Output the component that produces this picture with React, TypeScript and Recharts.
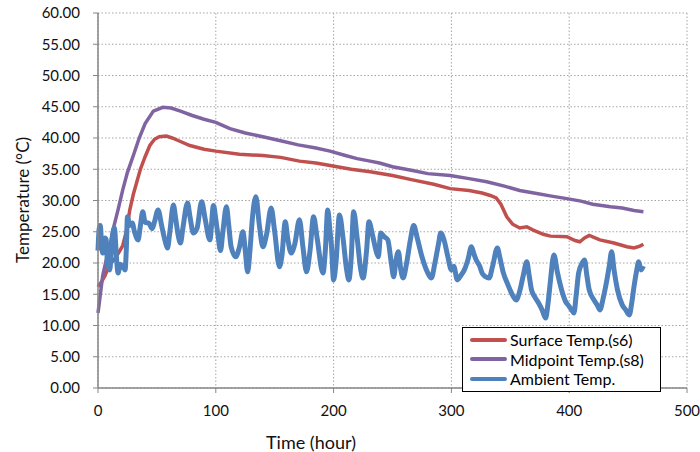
import { LineChart, Line, XAxis, YAxis, CartesianGrid, Legend } from "recharts";

// [hour, °C]
const surfaceTemp: [number, number][] = [
  [0, 16.2], [3, 17], [6, 18], [10, 19.8], [14, 20.6], [18, 21.8], [21, 22.8], [24, 25],
  [27, 28.5], [30, 31], [33, 33], [36, 35], [40, 37], [44, 38.8], [48, 39.8], [52, 40.2],
  [58, 40.3], [63, 40], [68, 39.6], [78, 38.8], [90, 38.2], [100, 37.9], [120, 37.4],
  [140, 37.2], [155, 36.9], [171, 36.3], [185, 36], [197, 35.6], [215, 35], [231, 34.6],
  [250, 34], [267, 33.3], [285, 32.6], [299, 31.9], [315, 31.6], [326, 31.2], [333, 30.8],
  [338, 30.4], [342, 29.4], [347, 27.4], [352, 26.2], [358, 25.6], [364, 25.8], [369, 25.3],
  [378, 24.6], [384, 24.3], [398, 24.2], [405, 23.6], [409, 23.4], [413, 24], [417, 24.4],
  [426, 23.7], [438, 23.2], [449, 22.6], [455, 22.4], [460, 22.7], [463, 23],
];

const midpointTemp: [number, number][] = [
  [0, 12], [2, 15], [4, 18], [7, 20.5], [10, 22.6], [13, 25.5], [17, 28.5], [21, 31.7],
  [25, 34.5], [30, 37.2], [35, 40], [40, 42.3], [47, 44.3], [55, 44.9], [62, 44.8],
  [70, 44.3], [80, 43.6], [90, 43], [100, 42.5], [112, 41.5], [125, 40.8], [140, 40.2],
  [154, 39.6], [170, 38.9], [185, 38.4], [197, 37.9], [210, 37.2], [220, 36.7], [231, 36.3],
  [239, 36], [250, 35.4], [267, 34.8], [280, 34.3], [299, 34], [315, 33.5], [330, 33],
  [345, 32.3], [358, 31.6], [370, 31.2], [385, 30.7], [398, 30.3], [410, 29.9], [420, 29.4],
  [435, 29], [445, 28.8], [455, 28.4], [463, 28.2],
];

const ambientTemp: [number, number][] = [
  [0, 22], [1, 25.5], [2, 26], [3, 23], [4, 21.6], [5, 22.5], [6, 24], [7, 23.7], [8, 20],
  [10, 18.9], [11, 21], [12, 24], [14, 25.6], [15, 23], [16, 20], [17, 18.4], [19, 19.8],
  [21, 19.4], [23, 18.9], [24, 22], [25, 27.4], [27, 26], [29, 26.4], [31, 25], [34, 23.7],
  [36, 26], [38, 28.2], [40, 26.5], [43, 26.4], [46, 25.5], [48, 26.6], [51, 28.5], [54, 26],
  [57, 23.5], [59, 22.4], [61, 25], [64, 29.3], [66, 27], [68, 24.5], [70, 23.2], [72, 25.5],
  [76, 29.6], [78, 27.5], [81, 24.8], [84, 25.5], [88, 29.8], [91, 27], [95, 23.7], [98, 29.2],
  [100, 27], [102, 24.2], [104, 22], [106, 25], [109, 29], [111, 26], [113, 22.6], [117, 21],
  [120, 22.5], [123, 25], [125, 22], [127, 18.6], [129, 22], [131, 27], [134, 30.6], [137, 26],
  [140, 22.6], [143, 24.5], [147, 28.8], [150, 25], [154, 19.4], [156, 21], [159, 26.6],
  [161, 24], [164, 21.6], [167, 23], [171, 26.9], [174, 22.5], [177, 18.6], [180, 22],
  [183, 27.4], [186, 24], [191, 18.4], [193, 22], [195, 28.5], [197, 25], [198, 23.2],
  [200, 17.3], [202, 20], [205, 27.7], [208, 24], [211, 19], [213, 17.3], [215, 21],
  [217, 28.2], [220, 24], [223, 19], [225, 17.6], [228, 22], [230, 26.6], [233, 24.5],
  [236, 22], [238, 21], [240, 24.8], [243, 24.2], [246, 23.7], [249, 20], [251, 17.8],
  [253, 20.5], [255, 21.8], [257, 19], [259, 17.6], [262, 20], [265, 23.5], [268, 26],
  [271, 24], [275, 21], [280, 18.4], [283, 17.6], [286, 20], [289, 23], [291, 24.8],
  [294, 23.5], [297, 21], [300, 18.9], [302, 19.5], [305, 17.3], [308, 18], [311, 18.9],
  [314, 20.5], [317, 22.6], [319, 21.5], [321, 20.5], [324, 19.5], [326, 18.4], [329, 17.8],
  [332, 17.6], [335, 19.5], [339, 22.4], [341, 21], [344, 18.5], [348, 16.5], [351, 15.2],
  [355, 14.1], [358, 15.5], [361, 18], [364, 20.2], [366, 18], [368, 15.7], [371, 14.5],
  [374, 13.6], [377, 12.5], [380, 11.2], [382, 13.5], [384, 17], [387, 21.3], [390, 18.5],
  [394, 15.4], [397, 13.8], [399, 13.3], [402, 12.5], [404, 12], [406, 15], [408, 18.4],
  [411, 20], [413, 20.5], [415, 18], [417, 15.7], [421, 14.1], [424, 13.2], [426, 12.5],
  [429, 14.5], [432, 17.3], [434, 19.5], [436, 21.8], [438, 19], [441, 15.7], [445, 13.3],
  [448, 12.5], [451, 11.7], [453, 13.5], [455, 16.2], [457, 18.5], [459, 20.2], [461, 18.9],
  [463, 19.5],
];

const seriesNames = ["Surface Temp.(s6)", "Midpoint Temp.(s8)", "Ambient Temp."];
const xTicks = [0, 100, 200, 300, 400, 500];
const yTicks = [0, 5, 10, 15, 20, 25, 30, 35, 40, 45, 50, 55, 60];

const toRows = (pts: [number, number][]) => pts.map(([t, v]) => ({ t, v }));

const FONT = "Lato, 'Liberation Sans', sans-serif";

function LegendBox({ payload }: any) {
  const items = [...(payload || [])].sort(
    (a: any, b: any) => seriesNames.indexOf(a.value) - seriesNames.indexOf(b.value)
  );
  return (
    <div
      style={{
        border: "1px solid #000",
        background: "#fff",
        padding: "2px 0 2px 7px",
        fontFamily: FONT,
        fontSize: 16,
        lineHeight: "19.5px",
        color: "#000",
        width: 199,
        boxSizing: "border-box",
      }}
    >
      {items.map((p: any) => (
        <div key={p.value} style={{ display: "flex", alignItems: "center" }}>
          <span
            style={{
              display: "inline-block",
              width: 37,
              height: 4,
              borderRadius: 2,
              background: p.color,
              marginRight: 3,
            }}
          />
          {p.value}
        </div>
      ))}
    </div>
  );
}

export default function App() {
  return (
    <div style={{ position: "absolute", left: 0, top: 0, background: "#fff" }}>
      <LineChart width={700} height={452} margin={{ top: 13, right: 13, bottom: 0, left: 0 }}>
        <CartesianGrid stroke="#a6a6a6" strokeDasharray="1.5 2" />
        <XAxis
          type="number"
          dataKey="t"
          domain={[0, 500]}
          ticks={xTicks}
          height={64}
          axisLine={{ stroke: "#868686", strokeWidth: 1.5 }}
          tickLine={{ stroke: "#868686" }}
          tickSize={5}
          tickMargin={12}
          tick={{ fill: "#111", fontSize: 15, fontFamily: FONT }}
          label={{
            content: () => (
              <text x={311} y={449} textAnchor="middle" fontSize={18} fontFamily={FONT} fill="#111">
                Time (hour)
              </text>
            ),
          }}
        />
        <YAxis
          type="number"
          domain={[0, 60]}
          ticks={yTicks}
          width={98}
          interval={0}
          axisLine={{ stroke: "#868686", strokeWidth: 1.5 }}
          tickLine={{ stroke: "#868686" }}
          tickSize={5}
          tickMargin={13}
          tickFormatter={(v: number) => v.toFixed(2)}
          tick={{ fill: "#111", fontSize: 15, fontFamily: FONT }}
          label={{
            content: () => (
              <text
                x={22}
                y={200}
                textAnchor="middle"
                dominantBaseline="central"
                transform="rotate(-90, 22, 200)"
                fontSize={17}
                fontFamily={FONT}
                fill="#111"
              >
                Temperature (°C)
              </text>
            ),
          }}
        />
        <Line
          data={toRows(surfaceTemp)}
          dataKey="v"
          name={seriesNames[0]}
          stroke="#C0504D"
          strokeWidth={3.5}
          dot={false}
          isAnimationActive={false}
        />
        <Line
          data={toRows(midpointTemp)}
          dataKey="v"
          name={seriesNames[1]}
          stroke="#8064A2"
          strokeWidth={3.5}
          dot={false}
          isAnimationActive={false}
        />
        <Line
          type="monotone"
          data={toRows(ambientTemp)}
          dataKey="v"
          name={seriesNames[2]}
          stroke="#4F81BD"
          strokeWidth={5}
          strokeLinejoin="round"
          dot={false}
          isAnimationActive={false}
        />
        <Legend
          layout="vertical"
          align="center"
          verticalAlign="middle"
          content={<LegendBox />}
          wrapperStyle={{ position: "absolute", left: 462, top: 327, width: 199 }}
        />
      </LineChart>
    </div>
  );
}
